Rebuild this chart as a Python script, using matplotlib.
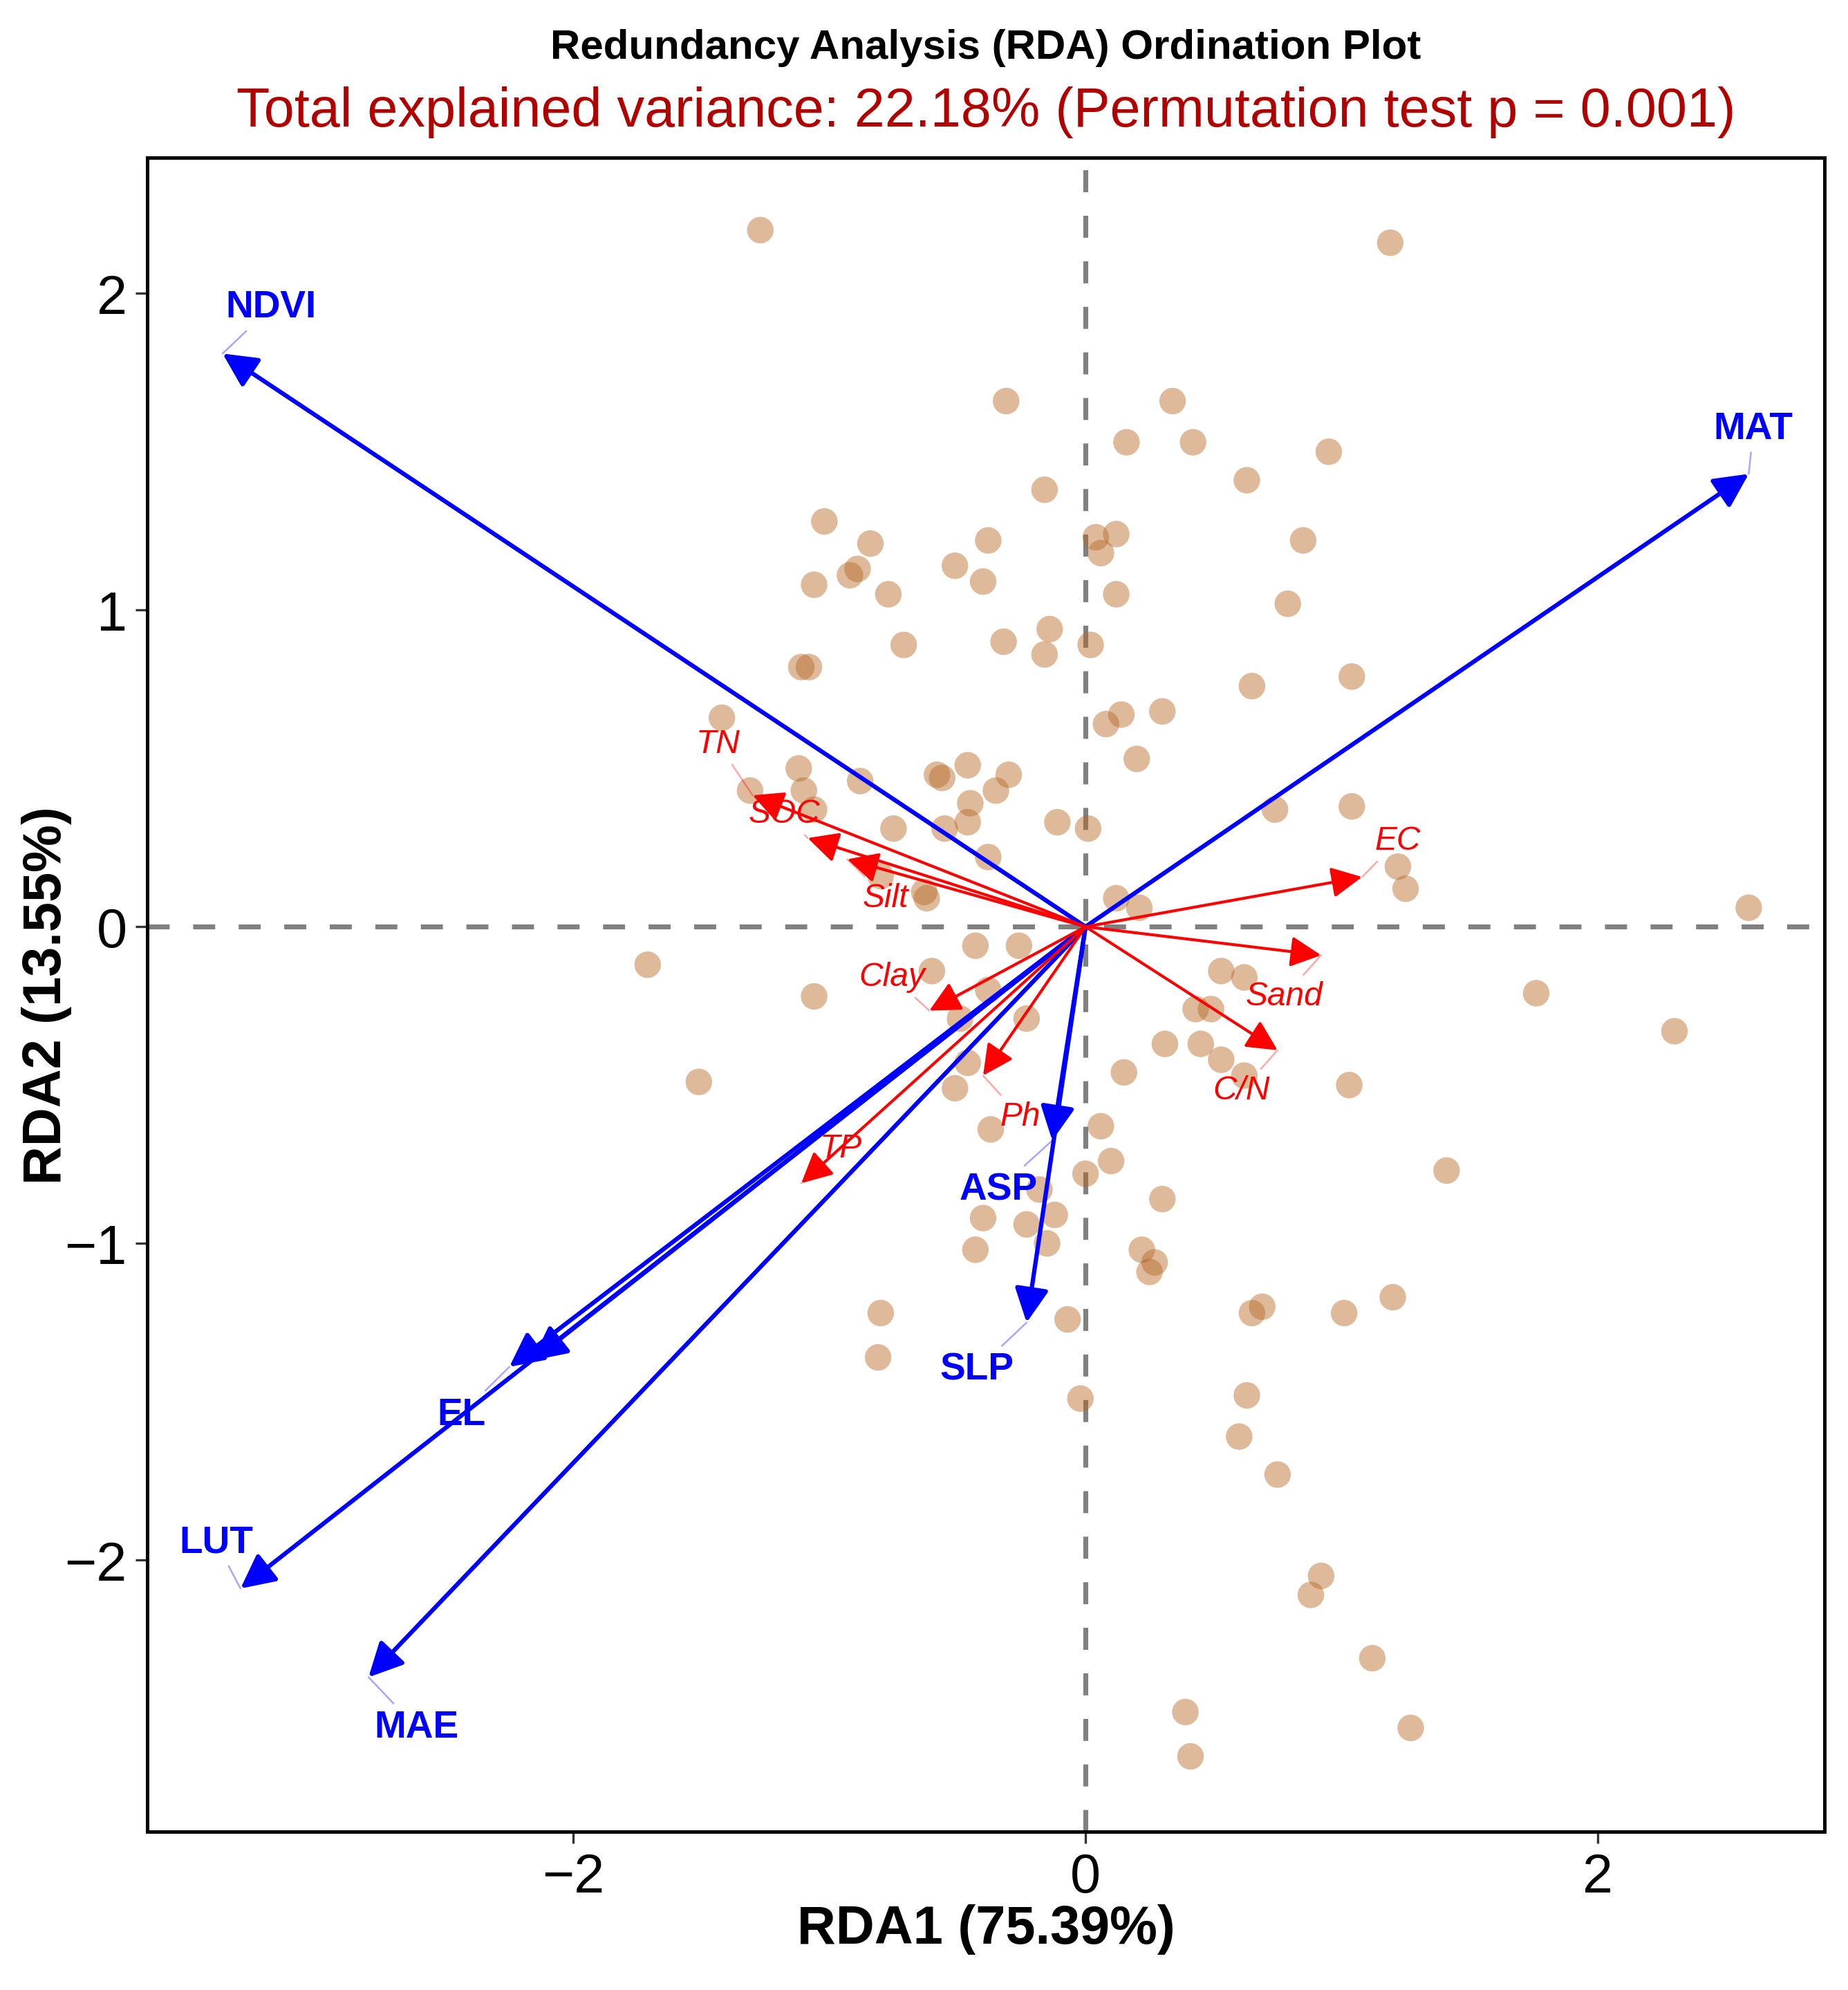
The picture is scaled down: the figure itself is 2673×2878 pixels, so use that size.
import matplotlib
matplotlib.use("Agg")
import matplotlib.pyplot as plt

plt.rcParams['font.family'] = ['Liberation Sans', 'DejaVu Sans']
plt.rcParams['axes.unicode_minus'] = True

# site scores (RDA1, RDA2)
site_x = [-1.27, 1.19, -0.31, 0.34, 0.16, 0.42, 0.95, 0.63, -0.16, -1.02,
          0.85, -0.38, -0.84, 0.04, 0.12, 0.06, -0.51, -0.92, -0.89, -1.06,
          -0.40, -0.77, 0.12, 0.79, -0.14, -0.32, -0.71, 0.02, -0.16, -1.11,
          -1.08, 1.04, 0.65, -1.42, 0.14, 0.30, 0.08, 0.20, -1.12, -0.58,
          -0.56, -0.46, -0.30, -1.31, -1.10, -0.88, -0.35, -0.45, -1.06, 1.04,
          0.74, -0.46, -0.11, 0.01, -0.75, -0.55, -0.38, 1.22, 1.25, -0.80,
          -0.63, -0.62, 0.12, 0.21, 2.59, -1.71, -0.43, -0.26, -0.60, 0.53,
          0.62, -1.06, -0.38, 1.76, -0.49, -0.23, 0.43, 0.49, 2.30, 0.31,
          0.45, 0.53, 0.62, -1.51, 1.03, 0.15, -0.46, -0.51, -0.37, 0.06,
          0.10, 1.41, 0.00, -0.18, 0.30, -0.40, -0.12, -0.23, -0.15, -0.43,
          0.22, 0.27, 0.25, 0.69, 0.65, 1.01, 1.20, -0.80, -0.07, -0.81,
          -0.02, 0.63, 0.60, 0.75, 0.92, 0.88, 1.12, 0.39, 1.27, 0.41]
site_y = [2.20, 2.16, 1.66, 1.66, 1.53, 1.53, 1.50, 1.41, 1.38, 1.28,
          1.22, 1.22, 1.21, 1.23, 1.24, 1.18, 1.14, 1.11, 1.13, 1.08,
          1.09, 1.05, 1.05, 1.02, 0.94, 0.90, 0.89, 0.89, 0.86, 0.82,
          0.82, 0.79, 0.76, 0.66, 0.67, 0.68, 0.64, 0.53, 0.50, 0.48,
          0.47, 0.51, 0.48, 0.43, 0.43, 0.46, 0.43, 0.39, 0.37, 0.38,
          0.37, 0.33, 0.33, 0.31, 0.31, 0.31, 0.22, 0.19, 0.12, 0.16,
          0.11, 0.09, 0.09, 0.06, 0.06, -0.12, -0.06, -0.06, -0.14, -0.14,
          -0.16, -0.22, -0.20, -0.21, -0.29, -0.29, -0.26, -0.26, -0.33, -0.37,
          -0.37, -0.42, -0.47, -0.49, -0.50, -0.46, -0.43, -0.51, -0.64, -0.63,
          -0.74, -0.77, -0.78, -0.83, -0.86, -0.92, -0.91, -0.94, -1.00, -1.02,
          -1.02, -1.06, -1.09, -1.20, -1.22, -1.22, -1.17, -1.22, -1.24, -1.36,
          -1.49, -1.48, -1.61, -1.73, -2.05, -2.11, -2.31, -2.48, -2.53, -2.62]

# environmental vectors (blue); one vector has no label drawn
env_names = ["NDVI", "MAT", "LUT", "MAE", "EL", "", "SLP", "ASP"]
env_x = [-3.37, 2.59, -3.30, -2.80, -2.25, -2.16, -0.23, -0.13]
env_y = [1.81, 1.43, -2.09, -2.37, -1.39, -1.37, -1.25, -0.675]

# soil property vectors (red)
soil_names = ["TN", "SOC", "Silt", "EC", "Sand", "C/N", "Clay", "Ph", "TP"]
soil_x = [-1.30, -1.085, -0.93, 1.08, 0.92, 0.75, -0.61, -0.40, -1.11]
soil_y = [0.415, 0.28, 0.213, 0.157, -0.09, -0.39, -0.265, -0.47, -0.81]

# label anchors as placed by the repel layout
env_label_pos = [(-3.18, 1.956), (2.608, 1.573), (-3.395, -1.944), (-2.614, -2.528),
                 (-2.438, -1.540), None, (-0.425, -1.399), (-0.341, -0.830)]
soil_label_pos = [(-1.436, 0.579), (-1.177, 0.357), (-0.780, 0.092), (1.22, 0.273),
                  (0.776, -0.219), (0.610, -0.516), (-0.756, -0.157), (-0.256, -0.599),
                  (-0.956, -0.699)]

fig = plt.figure(figsize=(2673 / 300, 2879 / 300), dpi=300)
ax = fig.add_axes([0.0797, 0.0795, 0.9076, 0.841])

ax.axhline(0, color="#808080", lw=1.7, ls=(0, (4.5, 4.8)), zorder=1)
ax.axvline(0, color="#808080", lw=1.7, ls=(0, (4.5, 4.8)), zorder=1)

ax.scatter(site_x, site_y, s=85, color=(182 / 255, 102 / 255, 33 / 255), alpha=0.45,
           edgecolors="none", zorder=2)

for x, y in zip(env_x, env_y):
    ax.annotate("", xy=(x, y), xytext=(0, 0),
                arrowprops=dict(arrowstyle="-|>,head_length=0.5,head_width=0.25",
                                color="blue", lw=1.5, mutation_scale=20,
                                shrinkA=0, shrinkB=0), zorder=3)

for x, y in zip(soil_x, soil_y):
    ax.annotate("", xy=(x, y), xytext=(0, 0),
                arrowprops=dict(arrowstyle="-|>,head_length=0.5,head_width=0.25",
                                color="red", lw=1.0, mutation_scale=18,
                                shrinkA=0, shrinkB=0), zorder=4)

for name, pos, x, y in zip(env_names, env_label_pos, env_x, env_y):
    if not name:
        continue
    ax.annotate(name, xy=(x, y), xytext=pos, color="blue", fontsize=13.2,
                fontweight="bold", ha="center", va="center", zorder=5,
                arrowprops=dict(arrowstyle="-", color="blue", alpha=0.35, lw=0.6,
                                shrinkA=0, shrinkB=0))

for name, pos, x, y in zip(soil_names, soil_label_pos, soil_x, soil_y):
    ax.annotate(name, xy=(x, y), xytext=pos, color="red", fontsize=11.5,
                fontstyle="italic", ha="center", va="center", zorder=5,
                arrowprops=dict(arrowstyle="-", color="red", alpha=0.35, lw=0.6,
                                shrinkA=0, shrinkB=0))

ax.set_xlim(-3.664, 2.886)
ax.set_ylim(-2.858, 2.429)
ax.set_xticks([-2, 0, 2])
ax.set_yticks([-2, -1, 0, 1, 2])
ax.tick_params(length=4, width=0.8, labelsize=19, pad=3, color="#333333")
for sp in ax.spines.values():
    sp.set_linewidth(1.2)

ax.set_xlabel("RDA1 (75.39%)", fontsize=18.6, fontweight="bold", va="center")
ax.set_ylabel("RDA2 (13.55%)", fontsize=18.6, fontweight="bold", va="center")
ax.xaxis.set_label_coords(0.5, -0.0578)
ax.yaxis.set_label_coords(-0.0598, 0.5)

fig.text(0.5335, 0.9757, "Redundancy Analysis (RDA) Ordination Plot",
         ha="center", va="center", fontsize=14.4, fontweight="bold")
fig.text(0.5335, 0.9435, "Total explained variance: 22.18% (Permutation test p = 0.001)",
         ha="center", va="center", fontsize=19, color="#B00000")

fig.savefig("out.png", dpi=300)
